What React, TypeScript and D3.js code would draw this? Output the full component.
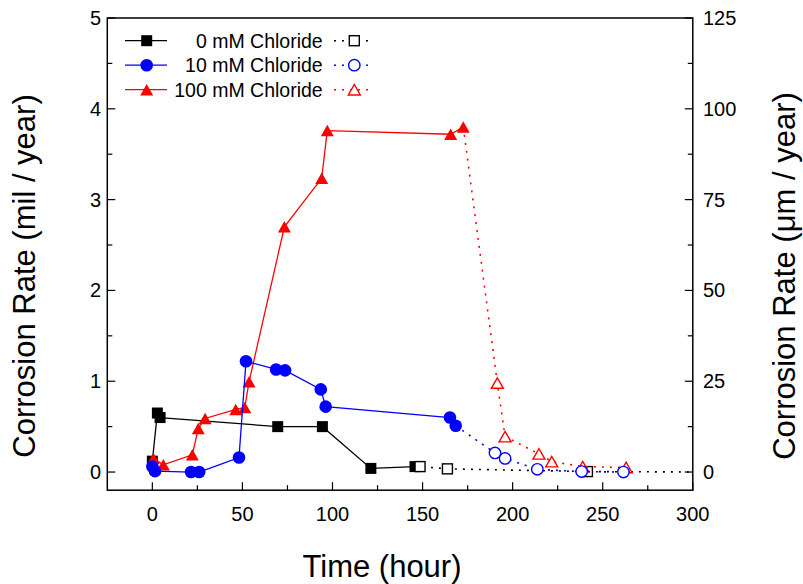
import React from 'react';
import * as d3 from 'd3';

// 0 mM Chloride
const blackFilledT = [0, 2.8, 4.3, 69.6, 94.4, 121.3, 145.8];
const blackFilledV = [0.12, 0.65, 0.6, 0.5, 0.5, 0.04, 0.06];
const blackOpenT = [148.6, 163.8, 241.5, 310];
const blackOpenV = [0.06, 0.035, 0.005, 0];
// 10 mM Chloride
const blueFilledT = [0, 1.5, 21.5, 26, 48.1, 52, 68.7, 73.7, 93.5, 96.2, 165.2, 168.4];
const blueFilledV = [0.06, 0.01, 0.0, 0.0, 0.16, 1.22, 1.13, 1.12, 0.91, 0.72, 0.6, 0.51];
const blueOpenT = [190.2, 195.8, 213.7, 238.3, 261.5];
const blueOpenV = [0.21, 0.15, 0.03, 0.005, 0];
// 100 mM Chloride
const redFilledT = [0.6, 6.1, 22.2, 25.5, 29.3, 46.3, 51.3, 53.7, 73.3, 94, 97.1, 165.6, 172.6];
const redFilledV = [0.15, 0.08, 0.19, 0.48, 0.59, 0.69, 0.71, 0.995, 2.7, 3.235, 3.76, 3.72, 3.8];
const redOpenT = [191.5, 195.8, 214.6, 221.7, 238.9, 263];
const redOpenV = [0.98, 0.39, 0.2, 0.115, 0.06, 0.05];

const legendLabels = ['0 mM Chloride', '10 mM Chloride', '100 mM Chloride'];
const xTicks = [0, 50, 100, 150, 200, 250, 300];
const xMinor = [25, 75, 125, 175, 225, 275];
const yTicks = [0, 1, 2, 3, 4, 5];
const yMinor = [0.5, 1.5, 2.5, 3.5, 4.5];
const y2Ticks = [0, 25, 50, 75, 100, 125];
const y2Minor = [12.5, 37.5, 62.5, 87.5, 112.5];

const W = 803, H = 584;
const x = d3.scaleLinear().domain([-25, 300]).range([107.3, 692.8]);
const y = d3.scaleLinear().domain([-0.2, 5]).range([490.2, 18]);
const y2 = d3.scaleLinear().domain([-5, 125]).range([490.2, 18]);

const font = 'Arial, "Liberation Sans", sans-serif';

type Shape = 'square' | 'circle' | 'triangle';

function Marker({ cx, cy, shape, color, filled }: { cx: number; cy: number; shape: Shape; color: string; filled: boolean }) {
  const fill = filled ? color : 'white';
  const sw = filled ? 0 : 1.4;
  if (shape === 'square') {
    const s = filled ? 11 : 10;
    return <rect x={cx - s / 2} y={cy - s / 2} width={s} height={s} fill={fill} stroke={color} strokeWidth={sw} />;
  }
  if (shape === 'circle') {
    return <circle cx={cx} cy={cy} r={filled ? 6.3 : 5.7} fill={fill} stroke={color} strokeWidth={sw} />;
  }
  const w = filled ? 13 : 12, h = filled ? 11.5 : 10.5;
  const pts = `${cx - w / 2},${cy + h / 2} ${cx + w / 2},${cy + h / 2} ${cx},${cy - h / 2}`;
  return <polygon points={pts} fill={fill} stroke={color} strokeWidth={sw} strokeLinejoin="miter" />;
}

const series = [
  { color: '#000000', shape: 'square' as Shape, fT: blackFilledT, fV: blackFilledV, oT: blackOpenT, oV: blackOpenV },
  { color: '#ff0000', shape: 'triangle' as Shape, fT: redFilledT, fV: redFilledV, oT: redOpenT, oV: redOpenV },
  { color: '#0000ff', shape: 'circle' as Shape, fT: blueFilledT, fV: blueFilledV, oT: blueOpenT, oV: blueOpenV },
];

const legendOrder = [
  { color: '#000000', shape: 'square' as Shape },
  { color: '#0000ff', shape: 'circle' as Shape },
  { color: '#ff0000', shape: 'triangle' as Shape },
];

export default function App() {
  const line = d3.line<[number, number]>().x((d) => x(d[0])).y((d) => y(d[1]));
  const [x0, x1] = x.range();
  const [yb, yt] = y.range();
  const dash = '2,6';
  return (
    <svg width={W} height={H} style={{ position: 'absolute', left: 0, top: 0, background: 'white' }} fontFamily={font}>
      <defs>
        <clipPath id="plot">
          <rect x={x0} y={yt} width={x1 - x0} height={yb - yt} />
        </clipPath>
      </defs>
      <rect x={0} y={0} width={W} height={H} fill="white" />
      <g clipPath="url(#plot)">
        {series.map((s, i) => {
          const filled: [number, number][] = s.fT.map((t, j) => [t, s.fV[j]]);
          const open: [number, number][] = s.oT.map((t, j) => [t, s.oV[j]]);
          const openPath: [number, number][] = [filled[filled.length - 1], ...open];
          return (
            <g key={i}>
              <path d={line(filled) || ''} fill="none" stroke={s.color} strokeWidth={1.3} />
              <path d={line(openPath) || ''} fill="none" stroke={s.color} strokeWidth={1.6} strokeDasharray={dash} />
              {filled.map((d, j) => (
                <Marker key={'f' + j} cx={x(d[0])} cy={y(d[1])} shape={s.shape} color={s.color} filled={true} />
              ))}
              {open.map((d, j) => (
                <Marker key={'o' + j} cx={x(d[0])} cy={y(d[1])} shape={s.shape} color={s.color} filled={false} />
              ))}
            </g>
          );
        })}
      </g>
      {/* frame */}
      <rect x={x0} y={yt} width={x1 - x0} height={yb - yt} fill="none" stroke="black" strokeWidth={1.5} />
      {/* x ticks */}
      {xTicks.map((t) => (
        <g key={'xt' + t}>
          <line x1={x(t)} x2={x(t)} y1={yb} y2={yb - 8} stroke="black" strokeWidth={1.2} />
          <text x={x(t)} y={521} textAnchor="middle" fontSize={20}>{t}</text>
        </g>
      ))}
      {xMinor.map((t) => (
        <line key={'xm' + t} x1={x(t)} x2={x(t)} y1={yb} y2={yb - 5} stroke="black" strokeWidth={1.2} />
      ))}
      {/* left y ticks */}
      {yTicks.map((v) => (
        <g key={'yt' + v}>
          <line x1={x0} x2={x0 + 8} y1={y(v)} y2={y(v)} stroke="black" strokeWidth={1.2} />
          <text x={101} y={y(v) + 7} textAnchor="end" fontSize={20}>{v}</text>
        </g>
      ))}
      {yMinor.map((v) => (
        <line key={'ym' + v} x1={x0} x2={x0 + 5} y1={y(v)} y2={y(v)} stroke="black" strokeWidth={1.2} />
      ))}
      {/* right y ticks */}
      {y2Ticks.map((v) => (
        <g key={'y2t' + v}>
          <line x1={x1} x2={x1 - 8} y1={y2(v)} y2={y2(v)} stroke="black" strokeWidth={1.2} />
          <text x={703} y={y2(v) + 7} textAnchor="start" fontSize={20}>{v}</text>
        </g>
      ))}
      {y2Minor.map((v) => (
        <line key={'y2m' + v} x1={x1} x2={x1 - 5} y1={y2(v)} y2={y2(v)} stroke="black" strokeWidth={1.2} />
      ))}
      {/* axis titles */}
      <text x={382} y={577} textAnchor="middle" fontSize={31}>Time (hour)</text>
      <text transform="translate(35,276) rotate(-90)" textAnchor="middle" fontSize={31}>Corrosion Rate (mil / year)</text>
      <text transform="translate(795,276) rotate(-90)" textAnchor="middle" fontSize={31}>Corrosion Rate (μm / year)</text>
      {/* legend */}
      {legendOrder.map((l, i) => {
        const ly = 40.7 + i * 24.5;
        return (
          <g key={'lg' + i}>
            <line x1={125} x2={167} y1={ly} y2={ly} stroke={l.color} strokeWidth={1.3} />
            <Marker cx={146.7} cy={ly} shape={l.shape} color={l.color} filled={true} />
            <text x={322.7} y={ly + 7} textAnchor="end" fontSize={19.5}>{legendLabels[i]}</text>
            <line x1={334} x2={374} y1={ly} y2={ly} stroke={l.color} strokeWidth={1.6} strokeDasharray={dash} />
            <Marker cx={354.3} cy={ly} shape={l.shape} color={l.color} filled={false} />
          </g>
        );
      })}
    </svg>
  );
}
